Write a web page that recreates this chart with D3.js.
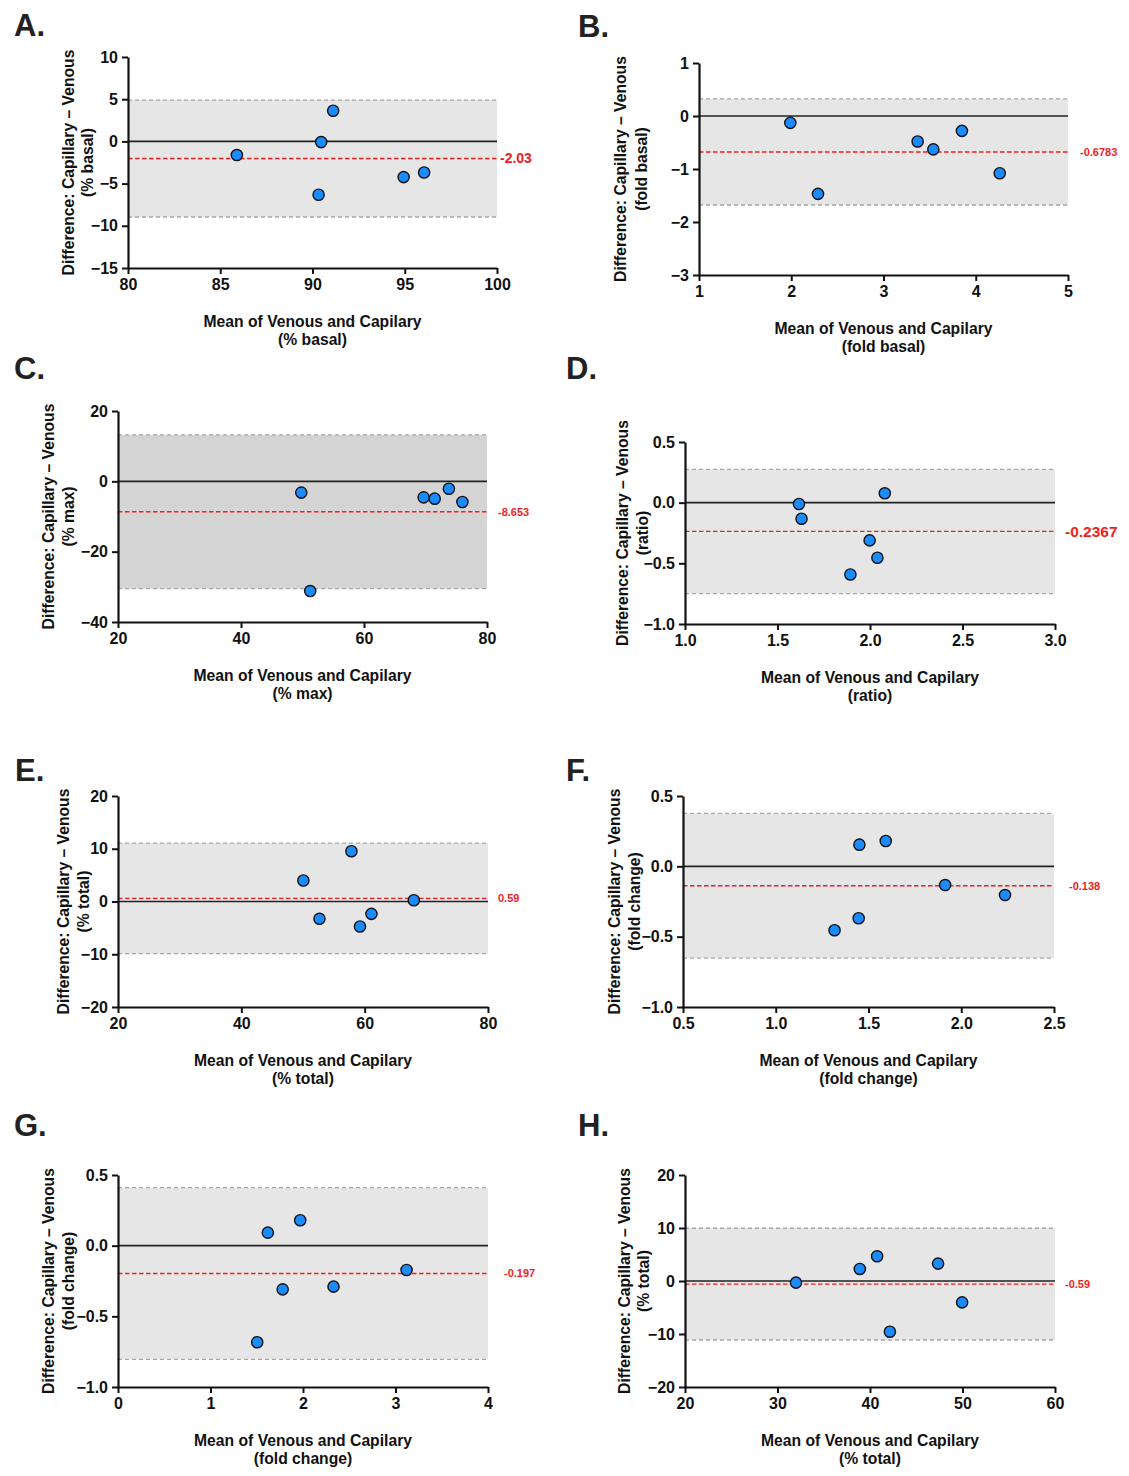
<!DOCTYPE html>
<html>
<head>
<meta charset="utf-8">
<title>Bland-Altman: Capillary vs Venous</title>
<script src="https://cdn.jsdelivr.net/npm/d3@7"></script>
<style>
  body { margin: 0; background: #fff; }
  svg text { font-family: "Liberation Sans", Arial, Helvetica, sans-serif; font-weight: bold; }
</style>
</head>
<body>
<script>
// ---- data ----
// A. % basal
var aMean = [85.9, 90.47, 91.12, 90.33, 94.94, 96.05];
var aDiff = [-1.62, -0.08, 3.63, -6.32, -4.23, -3.68];
var aBias = -2.03, aLoA = [4.90, -8.96];
var aXTicks = [80, 85, 90, 95, 100], aYTicks = [10, 5, 0, -5, -10, -15];

// B. fold basal
var bMean = [1.99, 2.29, 3.37, 3.54, 3.85, 4.26];
var bDiff = [-0.13, -1.47, -0.48, -0.63, -0.28, -1.08];
var bBias = -0.6783, bLoA = [0.322, -1.679];
var bXTicks = [1, 2, 3, 4, 5], bYTicks = [1, 0, -1, -2, -3];

// C. % max
var cMean = [49.8, 51.25, 69.7, 71.5, 73.8, 76.0];
var cDiff = [-3.2, -31.2, -4.55, -4.93, -2.09, -5.88];
var cBias = -8.653, cLoA = [13.2, -30.5];
var cXTicks = [20, 40, 60, 80], cYTicks = [20, 0, -20, -40];

// D. ratio
var dMean = [1.616, 1.63, 2.08, 1.998, 2.04, 1.894];
var dDiff = [-0.011, -0.132, 0.077, -0.311, -0.454, -0.592];
var dBias = -0.2367, dLoA = [0.275, -0.749];
var dXTicks = [1.0, 1.5, 2.0, 2.5, 3.0], dYTicks = [0.5, 0.0, -0.5, -1.0];

// E. % total
var eMean = [50.06, 57.85, 52.67, 59.24, 61.1, 67.97];
var eDiff = [3.98, 9.54, -3.28, -4.74, -2.34, 0.25];
var eBias = 0.59, eLoA = [11.08, -9.90];
var eXTicks = [20, 40, 60, 80], eYTicks = [20, 10, 0, -10, -20];

// F. fold change
var fMean = [1.451, 1.593, 1.317, 1.447, 1.913, 2.236];
var fDiff = [0.154, 0.180, -0.454, -0.369, -0.133, -0.204];
var fBias = -0.138, fLoA = [0.376, -0.652];
var fXTicks = [0.5, 1.0, 1.5, 2.0, 2.5], fYTicks = [0.5, 0.0, -0.5, -1.0];

// G. fold change
var gMean = [1.62, 1.97, 1.78, 2.33, 1.505, 3.12];
var gDiff = [0.092, 0.180, -0.309, -0.29, -0.683, -0.172];
var gBias = -0.197, gLoA = [0.410, -0.804];
var gXTicks = [0, 1, 2, 3, 4], gYTicks = [0.5, 0.0, -0.5, -1.0];

// H. % total
var hMean = [32.0, 38.9, 40.77, 47.36, 49.96, 42.15];
var hDiff = [-0.31, 2.27, 4.66, 3.28, -4.03, -9.57];
var hBias = -0.59, hLoA = [9.95, -11.13];
var hXTicks = [20, 30, 40, 50, 60], hYTicks = [20, 10, 0, -10, -20];

var letters = ["A.", "B.", "C.", "D.", "E.", "F.", "G.", "H."];
var units = ["% basal", "fold basal", "% max", "ratio", "% total", "fold change", "fold change", "% total"];
var biasText = ["-2.03", "-0.6783", "-8.653", "-0.2367", "0.59", "-0.138", "-0.197", "-0.59"];

// ---- layout (pixels) ----
var panels = [
  { mean: aMean, diff: aDiff, bias: aBias, loa: aLoA, xt: aXTicks, yt: aYTicks, dec: 0,
    l: 128, r: 497, t: 57, b: 268, lx: 14, ly: 36, y1: 60, y2: 41, bx: 3, bs: 14, band: "#e6e6e6" },
  { mean: bMean, diff: bDiff, bias: bBias, loa: bLoA, xt: bXTicks, yt: bYTicks, dec: 0,
    l: 699, r: 1068, t: 63, b: 275, lx: 578, ly: 37, y1: 79, y2: 58, bx: 12, bs: 11, band: "#e6e6e6" },
  { mean: cMean, diff: cDiff, bias: cBias, loa: cLoA, xt: cXTicks, yt: cYTicks, dec: 0,
    l: 118, r: 487, t: 411, b: 622, lx: 14, ly: 379, y1: 70, y2: 50, bx: 11, bs: 11, band: "#d4d4d4" },
  { mean: dMean, diff: dDiff, bias: dBias, loa: dLoA, xt: dXTicks, yt: dYTicks, dec: 1,
    l: 685, r: 1055, t: 442, b: 624, lx: 566, ly: 379, y1: 63, y2: 43, bx: 10, bs: 15.5, band: "#e6e6e6" },
  { mean: eMean, diff: eDiff, bias: eBias, loa: eLoA, xt: eXTicks, yt: eYTicks, dec: 0,
    l: 118, r: 488, t: 796, b: 1007, lx: 15, ly: 781, y1: 55, y2: 35, bx: 10, bs: 11, band: "#e6e6e6" },
  { mean: fMean, diff: fDiff, bias: fBias, loa: fLoA, xt: fXTicks, yt: fYTicks, dec: 1,
    l: 683, r: 1054, t: 796, b: 1007, lx: 566, ly: 781, y1: 69, y2: 49, bx: 15, bs: 11, band: "#e6e6e6" },
  { mean: gMean, diff: gDiff, bias: gBias, loa: gLoA, xt: gXTicks, yt: gYTicks, dec: 0, ydec: 1,
    l: 118, r: 488, t: 1175, b: 1387, lx: 14, ly: 1136, y1: 70, y2: 50, bx: 16, bs: 11, band: "#e6e6e6" },
  { mean: hMean, diff: hDiff, bias: hBias, loa: hLoA, xt: hXTicks, yt: hYTicks, dec: 0,
    l: 685, r: 1055, t: 1175, b: 1387, lx: 578, ly: 1136, y1: 61, y2: 42, bx: 10, bs: 11, band: "#e6e6e6" }
];

var svg = d3.select("body").append("svg")
    .attr("width", 1129)
    .attr("height", 1476);

function fmt(dec) {
  return function(v) {
    var s = v.toFixed(dec);
    return v < 0 ? "\u2212" + s.slice(1) : s;
  };
}

panels.forEach(function(p, i) {
  var xd = d3.extent(p.xt), yd = d3.extent(p.yt);
  var x = d3.scaleLinear().domain(xd).range([p.l, p.r]);
  var y = d3.scaleLinear().domain(yd).range([p.b, p.t]);
  var g = svg.append("g");

  // limits of agreement band
  g.append("rect")
    .attr("x", x(xd[0]))
    .attr("y", y(p.loa[0]))
    .attr("width", x(xd[1]) - x(xd[0]))
    .attr("height", y(p.loa[1]) - y(p.loa[0]))
    .attr("fill", p.band);

  g.selectAll("line.loa")
    .data(p.loa)
    .enter().append("line")
      .attr("class", "loa")
      .attr("x1", x(xd[0])).attr("x2", x(xd[1]))
      .attr("y1", function(d) { return y(d); })
      .attr("y2", function(d) { return y(d); })
      .attr("stroke", "#a6a6a6")
      .attr("stroke-width", 1.3)
      .attr("stroke-dasharray", "4,3");

  // zero line
  g.append("line")
    .attr("x1", x(xd[0])).attr("x2", x(xd[1]))
    .attr("y1", y(0)).attr("y2", y(0))
    .attr("stroke", "#222")
    .attr("stroke-width", 1.6);

  // bias line
  g.append("line")
    .attr("x1", x(xd[0])).attr("x2", x(xd[1]))
    .attr("y1", y(p.bias)).attr("y2", y(p.bias))
    .attr("stroke", "#f01e1e")
    .attr("stroke-width", 1.4)
    .attr("stroke-dasharray", "4.5,2.5");

  g.append("text")
    .attr("x", x(xd[1]) + p.bx)
    .attr("y", y(p.bias))
    .attr("dy", "0.35em")
    .attr("fill", "#f01e1e")
    .attr("font-size", p.bs)
    .text(biasText[i]);

  // axes
  var xa = g.append("g")
    .attr("transform", "translate(0," + p.b + ")")
    .call(d3.axisBottom(x).tickValues(p.xt).tickFormat(fmt(p.dec)).tickSize(6).tickSizeOuter(0));
  var ya = g.append("g")
    .attr("transform", "translate(" + p.l + ",0)")
    .call(d3.axisLeft(y).tickValues(p.yt).tickFormat(fmt(p.ydec !== undefined ? p.ydec : p.dec)).tickSize(6).tickSizeOuter(0));
  [xa, ya].forEach(function(a) {
    a.attr("font-size", 16);
    a.select(".domain").attr("stroke", "#111").attr("stroke-width", 2.2);
    a.selectAll(".tick line").attr("stroke", "#111").attr("stroke-width", 2);
    a.selectAll(".tick text").attr("fill", "#111")
      .style("font-family", "'Liberation Sans', Arial, sans-serif").style("font-weight", "bold");
  });
  xa.selectAll(".tick text").attr("dy", "0.8em");
  ya.selectAll(".tick text").attr("dx", "-1px");

  // points
  g.selectAll("circle")
    .data(d3.zip(p.mean, p.diff))
    .enter().append("circle")
      .attr("cx", function(d) { return x(d[0]); })
      .attr("cy", function(d) { return y(d[1]); })
      .attr("r", 5.6)
      .attr("fill", "#1a8cff")
      .attr("stroke", "#111")
      .attr("stroke-width", 1.4);

  // titles
  var cx = (p.l + p.r) / 2;
  g.append("text")
    .attr("x", cx).attr("y", p.b + 59)
    .attr("text-anchor", "middle").attr("font-size", 15.7).attr("fill", "#111")
    .text("Mean of Venous and Capilary");
  g.append("text")
    .attr("x", cx).attr("y", p.b + 77)
    .attr("text-anchor", "middle").attr("font-size", 15.7).attr("fill", "#111")
    .text("(" + units[i] + ")");

  var cy = (p.t + p.b) / 2;
  g.append("text")
    .attr("transform", "translate(" + (p.l - p.y1 + 5.5) + "," + cy + ") rotate(-90)")
    .attr("text-anchor", "middle").attr("font-size", 15.7).attr("fill", "#111")
    .text("Difference: Capillary \u2013 Venous");
  g.append("text")
    .attr("transform", "translate(" + (p.l - p.y2 + 5.5) + "," + cy + ") rotate(-90)")
    .attr("text-anchor", "middle").attr("font-size", 15.7).attr("fill", "#111")
    .text("(" + units[i] + ")");

  // panel letter
  svg.append("text")
    .attr("x", p.lx).attr("y", p.ly)
    .attr("font-size", 31).attr("fill", "#222")
    .text(letters[i]);
});
</script>
</body>
</html>
